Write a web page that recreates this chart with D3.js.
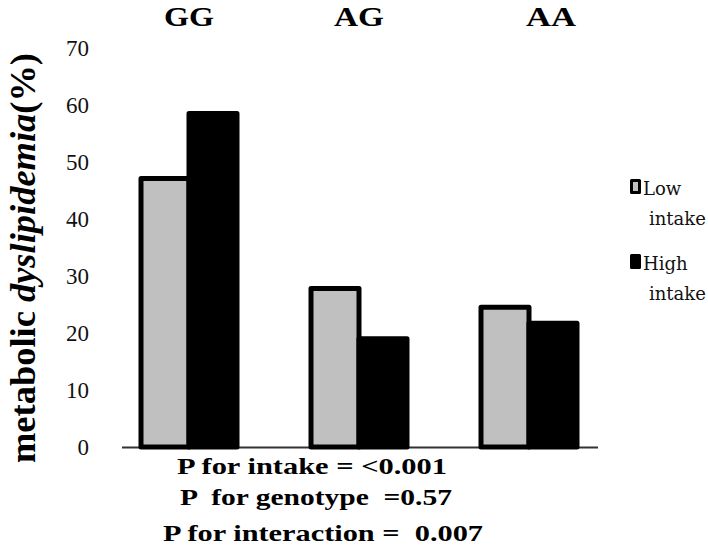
<!DOCTYPE html>
<html>
<head>
<meta charset="utf-8">
<script src="https://cdn.jsdelivr.net/npm/d3@7/dist/d3.min.js"></script>
<style>
  html, body { margin: 0; padding: 0; background: #fff; }
  svg { display: block; }
</style>
</head>
<body>
<svg id="chart" width="708" height="548"></svg>
<script>
// ---- data ----
const genotypes = ["GG", "AG", "AA"];
const intakeLevels = ["Low intake", "High intake"];
const lowIntake = [47.1, 27.8, 24.5];
const highIntake = [58.5, 19.0, 21.7];
const yTicks = [0, 10, 20, 30, 40, 50, 60, 70];
const pTexts = ["P for intake = <0.001", "P  for genotype  =0.57", "P for interaction =  0.007"];

const colors = { "Low intake": "#c0c0c0", "High intake": "#000000" };

const svg = d3.select("#chart");
const serif = "Liberation Serif, Times New Roman, serif";

const y = d3.scaleLinear().domain([0, 70]).range([447, 48]);
const x = d3.scaleBand().domain(genotypes).range([104, 614]).padding(0);
const xi = d3.scaleBand().domain(intakeLevels).range([-48, 48]).padding(0);

// baseline
svg.append("line")
  .attr("x1", 122).attr("x2", 598)
  .attr("y1", y(0) + 0.5).attr("y2", y(0) + 0.5)
  .attr("stroke", "#333").attr("stroke-width", 2);

// bars
const rows = genotypes.map((g, i) => ({ g, values: [
  { k: intakeLevels[0], v: lowIntake[i] },
  { k: intakeLevels[1], v: highIntake[i] }
]}));

const groups = svg.selectAll("g.grp").data(rows).join("g")
  .attr("class", "grp")
  .attr("transform", d => `translate(${x(d.g) + x.bandwidth() / 2},0)`);

groups.selectAll("rect").data(d => d.values).join("rect")
  .attr("x", d => xi(d.k))
  .attr("width", xi.bandwidth())
  .attr("y", d => y(d.v))
  .attr("height", d => y(0) - y(d.v))
  .attr("fill", d => colors[d.k])
  .attr("stroke", "#000")
  .attr("stroke-width", 5)
  .attr("stroke-linejoin", "round");

// group labels (top)
const labelShift = { GG: 0, AG: 0, AA: 22 };
svg.selectAll("text.glab").data(genotypes).join("text")
  .attr("class", "glab")
  .attr("x", d => x(d) + x.bandwidth() / 2 + labelShift[d])
  .attr("y", 26)
  .attr("text-anchor", "middle")
  .attr("font-family", serif)
  .attr("font-weight", "bold")
  .attr("font-size", 27)
  .attr("textLength", 50)
  .attr("lengthAdjust", "spacingAndGlyphs")
  .text(d => d);

// y axis tick labels
const yAxis = d3.axisLeft(y).tickValues(yTicks).tickSize(0).tickPadding(0).tickFormat(d3.format("d"));
const ag = svg.append("g").attr("transform", "translate(89,0)").call(yAxis);
ag.attr("font-family", serif);
ag.select(".domain").remove();
ag.selectAll("text")
  .attr("font-family", serif)
  .attr("font-size", 23)
  .attr("fill", "#111");

// y axis title
const title = svg.append("text")
  .attr("transform", "translate(35,258) rotate(-90)")
  .attr("text-anchor", "middle")
  .attr("font-family", serif)
  .attr("font-weight", "bold")
  .attr("font-size", 35)
  .attr("textLength", 410)
  .attr("lengthAdjust", "spacingAndGlyphs");
title.append("tspan").text("metabolic ");
title.append("tspan").attr("font-style", "italic").text("dyslipidemia");
title.append("tspan").text("(%)");

// legend
const legendY = [179, 254];
const leg = svg.selectAll("g.leg").data(intakeLevels).join("g")
  .attr("class", "leg")
  .attr("transform", (d, i) => `translate(630,${legendY[i]})`);
leg.append("rect")
  .attr("x", 1.5).attr("y", 1.5)
  .attr("width", 8).attr("height", 12)
  .attr("fill", d => colors[d])
  .attr("stroke", "#000").attr("stroke-width", 3)
  .attr("stroke-linejoin", "round");
leg.append("text")
  .attr("x", 13).attr("y", 16)
  .attr("font-family", "DejaVu Serif, serif")
  .attr("font-size", 18)
  .attr("fill", "#111")
  .text(d => d.split(" ")[0]);
leg.append("text")
  .attr("x", 19).attr("y", 46)
  .attr("font-family", "DejaVu Serif, serif")
  .attr("font-size", 18)
  .attr("fill", "#111")
  .text(d => d.split(" ")[1]);

// P-value texts
const pLayout = [
  { x: 177, y: 474, w: 270 },
  { x: 180, y: 505, w: 272 },
  { x: 163, y: 541, w: 320 }
];
svg.selectAll("text.pt").data(pTexts).join("text")
  .attr("class", "pt")
  .attr("x", (d, i) => pLayout[i].x)
  .attr("y", (d, i) => pLayout[i].y)
  .attr("textLength", (d, i) => pLayout[i].w)
  .attr("lengthAdjust", "spacingAndGlyphs")
  .style("white-space", "pre")
  .attr("font-family", serif)
  .attr("font-weight", "bold")
  .attr("font-size", 23)
  .text(d => d);
</script>
</body>
</html>
